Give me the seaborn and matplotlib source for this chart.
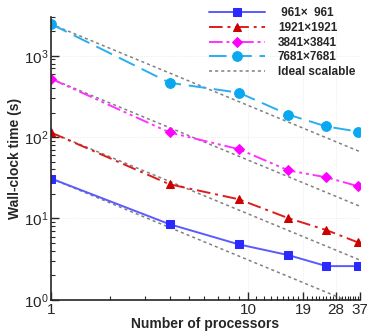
import matplotlib
matplotlib.use("Agg", force=True)
import matplotlib.pyplot as plt
import matplotlib.ticker as mticker
import numpy as np
import pandas as pd
import seaborn as sns

# processor counts and wall-clock times (s)
procs = [1, 4, 9, 16, 25, 36]
t_961 = [31.0, 8.5, 4.8, 3.55, 2.6, 2.6]
t_1921 = [114.0, 26.3, 17.2, 10.1, 7.2, 5.1]
t_3841 = [522.0, 114.0, 71.0, 39.0, 32.0, 25.0]
t_7681 = [2450.0, 465.0, 351.0, 189.0, 135.0, 117.0]
labels = [" 961\u00d7  961", "1921\u00d71921", "3841\u00d73841", "7681\u00d77681"]
ideal_procs = [1, 37]

sns.set_style("ticks")
plt.rcParams["font.family"] = ["Liberation Sans", "DejaVu Sans"]
plt.rcParams["mathtext.fontset"] = "custom"
plt.rcParams["mathtext.rm"] = "Liberation Sans"

fig = plt.figure(figsize=(3.67, 3.31), dpi=100)
ax = fig.add_axes([0.139, 0.094, 0.842, 0.855])

styles = [
    dict(color="#5a5aff", linestyle="-", marker="s", markersize=5.5,
         markerfacecolor="#2a2aff", markeredgecolor="#2a2aff"),
    dict(color="#dd1c1c", linestyle=(0, (7, 2.5, 1.5, 2.5)), marker="^", markersize=5.5,
         markerfacecolor="#cc0000", markeredgecolor="#cc0000"),
    dict(color="#ff33ff", linestyle=(0, (7, 2, 1.5, 2, 1.5, 2)), marker="D", markersize=5,
         markerfacecolor="#ff00ff", markeredgecolor="#ff00ff"),
    dict(color="#2aaef0", linestyle=(0, (9, 4)), marker="o", markersize=7,
         markerfacecolor="#0aa8f0", markeredgecolor="#0aa8f0"),
]

for times, label, st in zip([t_961, t_1921, t_3841, t_7681], labels, styles):
    df = pd.DataFrame({"p": procs, "t": times})
    sns.lineplot(data=df, x="p", y="t", ax=ax, label=label, linewidth=1.4, **st)

for i, times in enumerate([t_961, t_1921, t_3841, t_7681]):
    ideal = pd.DataFrame({"p": ideal_procs, "t": [times[0] / p for p in ideal_procs]})
    sns.lineplot(data=ideal, x="p", y="t", ax=ax, color="#808080",
                 linestyle=(0, (2, 2)), linewidth=1.1,
                 label="Ideal scalable" if i == 0 else None, zorder=1)

ax.set_xscale("log")
ax.set_yscale("log")
ax.set_xlim(1, 37)
ax.set_ylim(1, 3000)
ax.xaxis.set_major_locator(mticker.FixedLocator([1, 10, 19, 28, 37]))
ax.xaxis.set_major_formatter(mticker.FixedFormatter(["1", "10", "19", "28", "37"]))
ax.xaxis.set_minor_locator(mticker.FixedLocator([v for v in range(2, 37) if v not in (10, 19, 28)]))
ax.xaxis.set_minor_formatter(mticker.NullFormatter())
ax.yaxis.set_major_locator(mticker.LogLocator(base=10, numticks=10))
ax.yaxis.set_minor_locator(mticker.LogLocator(base=10, subs=np.arange(2, 10), numticks=20))
ax.yaxis.set_minor_formatter(mticker.NullFormatter())

ax.tick_params(which="major", direction="in", length=6, width=1, labelsize=11, pad=2)
ax.tick_params(which="minor", direction="in", length=3, width=0.8)
ax.grid(True, which="major", color="#e6e6e6", linestyle=":", linewidth=0.6)
for side in ["top", "right"]:
    ax.spines[side].set_visible(False)
for side in ["left", "bottom"]:
    ax.spines[side].set_linewidth(1.2)

ax.set_xlabel("Number of processors", fontsize=10, fontweight="bold", labelpad=0)
ax.set_ylabel("Wall-clock time (s)", fontsize=10, fontweight="bold", labelpad=1)

leg = ax.legend(loc="upper right", frameon=False, handlelength=4.7,
                prop={"weight": "bold", "size": 8.5}, borderaxespad=0.0,
                labelspacing=0.22, handletextpad=1.1, bbox_to_anchor=(1.0, 1.05))

fig.savefig("out.png", dpi=100)
